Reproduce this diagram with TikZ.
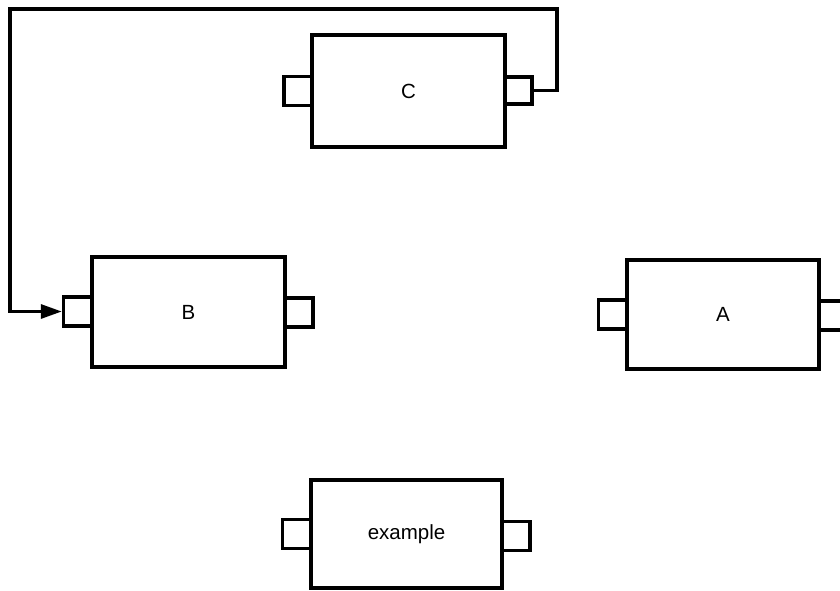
\documentclass[tikz,border=0pt]{standalone}
\usepackage{fontspec}
\setmainfont{Liberation Sans}
\usetikzlibrary{arrows.meta}
\begin{document}
\begin{tikzpicture}[x=1pt,y=-1pt,
  blk/.style={draw=black,line width=3.4pt,fill=white,rectangle,inner sep=0pt,
    font=\fontsize{20.5}{24}\selectfont},
  port/.style={draw=black,line width=3.4pt,fill=white,rectangle,inner sep=0pt,
    minimum width=28pt,minimum height=29pt},
  wire/.style={draw=black,line width=3.2pt,line join=miter}]
\useasboundingbox (0,0) rectangle (840,590);
\clip (0,0) rectangle (840,590);
% ports first (behind blocks)
\node[port] (Bl) at (77.5,311.5) {};
\node[port] (Br) at (299,312.5) {};
\node[port] (Cl) at (298,91) {};
\node[port,minimum width=27pt,minimum height=27pt] (Cr) at (518.5,90.5) {};
\node[port] (Al) at (612.5,314.5) {};
\node[port] (Ar) at (833.5,315.5) {};
\node[port] (El) at (296.5,534) {};
\node[port] (Er) at (516,536) {};
% blocks
\node[blk,minimum width=193pt,minimum height=110pt] (B) at (188.5,312) {B};
\node[blk,minimum width=193pt,minimum height=112pt] (C) at (408.5,91) {C};
\node[blk,minimum width=192pt,minimum height=109pt] (A) at (723,314.5) {A};
\node[blk,minimum width=191pt,minimum height=108pt] (E) at (406.5,534) {example};
% wire
\coordinate (c1) at (557,9);
\coordinate (c2) at (10,9);
\draw[wire,-{Triangle[length=21pt,width=14pt]}] (Cr.east) -| (c1) -- (c2) |- (Bl.west);
\end{tikzpicture}
\end{document}
